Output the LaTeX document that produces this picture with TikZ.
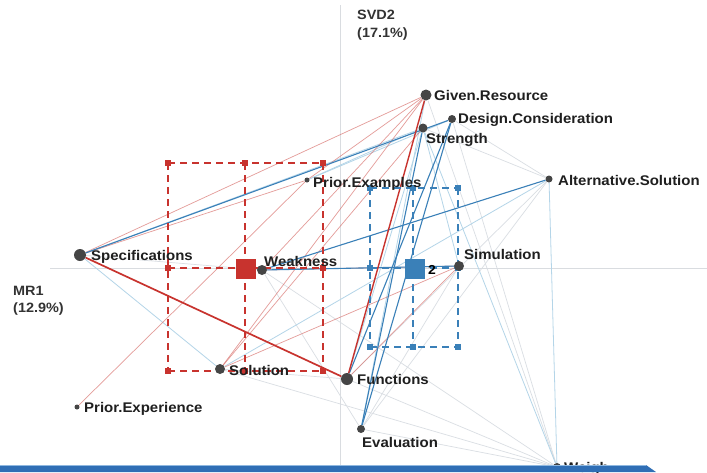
\documentclass[tikz,border=0pt]{standalone}
\usepackage{fontspec}
\setmainfont{Liberation Sans}[FakeStretch=1.07]
\usetikzlibrary{backgrounds}
\definecolor{redc}{HTML}{C8332E}
\definecolor{bluec}{HTML}{3A80B8}
\definecolor{lbluec}{HTML}{B4D5E8}
\definecolor{grayc}{HTML}{DADEE3}
\definecolor{axisc}{HTML}{D9DCE0}
\definecolor{dotc}{HTML}{454545}
\definecolor{barc}{HTML}{2F6EB5}
\definecolor{barlc}{HTML}{8FB8E0}
\begin{document}
\begin{tikzpicture}[x=1pt,y=-1pt,
  vtx/.style={circle,fill=dotc,inner sep=0pt,minimum size=#1},
  lab/.style={anchor=base west,inner sep=0pt,text=black!88,font=\fontsize{14}{16}\selectfont\bfseries},
  axlab/.style={anchor=base west,inner sep=0pt,text=black!80,font=\fontsize{13.5}{16}\selectfont\bfseries},
  redstrong/.style={draw=redc,line width=1.7pt},
  redthin/.style={draw=redc!75,line width=0.7pt,opacity=0.65},
  bluee/.style={draw=bluec,line width=1.1pt},
  lbluee/.style={draw=lbluec,line width=0.8pt},
  graye/.style={draw=grayc,line width=0.7pt},
  redbox/.style={draw=redc,line width=1.2pt,dash pattern=on 7pt off 5pt},
  bluebox/.style={draw=bluec,line width=1.2pt,dash pattern=on 7pt off 5pt},
  redmark/.style={fill=redc,inner sep=0pt,minimum size=5.5pt},
  bluemark/.style={fill=bluec,inner sep=0pt,minimum size=5.5pt}]
\useasboundingbox (0,0) rectangle (707,472);

% category points
\node[vtx=11pt] (gr)    at (426,95)  {};
\node[vtx=8pt]  (dc)    at (452,119) {};
\node[vtx=9pt]  (st)    at (423,128) {};
\node[vtx=5pt]  (pex)   at (307,180) {};
\node[vtx=7pt]  (alt)   at (549,179) {};
\node[vtx=12pt] (spec)  at (80,255)  {};
\node[vtx=10pt] (weak)  at (262,270) {};
\node[vtx=10pt] (sim)   at (459,266) {};
\node[vtx=10pt] (sol)   at (220,369) {};
\node[vtx=12pt] (fun)   at (347,379) {};
\node[vtx=5pt]  (pexp)  at (77,407)  {};
\node[vtx=8pt]  (eval)  at (361,429) {};
\node[vtx=8pt]  (weigh) at (557,467) {};

% group centres
\node[fill=redc,inner sep=0pt,minimum size=20pt] (g1) at (245.5,268.5) {};
\node[fill=bluec,inner sep=0pt,minimum size=20pt] (g2) at (415,268.5) {};
\node[anchor=west,inner sep=0pt,font=\fontsize{13}{15}\selectfont\bfseries] (g2l) at (428,270) {2};

% labels
\node[lab] (gr-l)    at (434,100) {Given.Resource};
\node[lab] (dc-l)    at (458,123) {Design.Consideration};
\node[lab] (st-l)    at (426,143) {Strength};
\node[lab] (pex-l)   at (313,187) {Prior.Examples};
\node[lab] (alt-l)   at (558,185) {Alternative.Solution};
\node[lab] (spec-l)  at (91,260)  {Specifications};
\node[lab] (weak-l)  at (264,266) {Weakness};
\node[lab] (sim-l)   at (464,259) {Simulation};
\node[lab] (sol-l)   at (229,375) {Solution};
\node[lab] (fun-l)   at (357,384) {Functions};
\node[lab] (pexp-l)  at (84,412)  {Prior.Experience};
\node[lab] (eval-l)  at (362,447) {Evaluation};
\node[lab] (weigh-l) at (564,472) {Weigh};

% axis titles
\node[axlab] (svd) at (357,19) {SVD2};
\node[axlab] (svdp) at (357,37) {(17.1\%)};
\node[axlab] (mr) at (13,295) {MR1};
\node[axlab] (mrp) at (13,312) {(12.9\%)};

\begin{scope}[on background layer]
  \fill[white] (0,0) rectangle (707,472);
  % axes
  \coordinate (ay1) at (340,5);
  \coordinate (ay2) at (340,472);
  \coordinate (ax1) at (50,268);
  \coordinate (ax2) at (707,268);
  \draw[axisc,line width=0.9pt] (ay1) -- (ay2);
  \draw[axisc,line width=0.9pt] (ax1) -- (ax2);

  % faint links
  \foreach \a/\b in {alt/eval,alt/fun,alt/st,alt/dc,gr/weigh,fun/weigh,eval/weigh,
                     weak/weigh,sol/weigh,dc/weigh,spec/weak,
                     weak/eval,sol/fun,sim/eval}
    \draw[graye] (\a) -- (\b);
  \foreach \a/\b in {spec/st,spec/sol,st/pex,st/fun,alt/weigh,st/weigh,gr/eval,
                     dc/pex,alt/sol,sim/st}
    \draw[lbluee] (\a) -- (\b);

  % red links
  \foreach \a/\b in {gr/spec,gr/sol,gr/weak,st/sol,pexp/pex,spec/pex,sim/sol,
                     sim/fun,sim/weak,gr/pex}
    \draw[redthin] (\a) -- (\b);

  % blue links
  \foreach \a/\b in {spec/dc,weak/sim,weak/alt,dc/eval,st/eval,dc/fun}
    \draw[bluee] (\a) -- (\b);

  \draw[redstrong] (spec) -- (fun);
  \draw[redstrong,line width=1.4pt] (gr) -- (fun);

  % spread of group 1
  \draw[redbox] (168,163) -- (323,163);
  \draw[redbox] (168,268) -- (323,268);
  \draw[redbox] (168,371) -- (323,371);
  \draw[redbox] (168,163) -- (168,371);
  \draw[redbox] (245,163) -- (245,371);
  \draw[redbox] (323,163) -- (323,371);
  \foreach \p in {(168,163),(245,163),(323,163),(168,268),(323,268),(168,371),(245,371),(323,371)}
    \node[redmark] at \p {};

  % spread of group 2
  \draw[bluebox] (370,188) -- (458,188);
  \draw[bluebox] (370,268) -- (458,268);
  \draw[bluebox] (370,347) -- (458,347);
  \draw[bluebox] (370,188) -- (370,347);
  \draw[bluebox] (413,188) -- (413,347);
  \draw[bluebox] (458,188) -- (458,347);
  \foreach \p in {(370,188),(413,188),(458,188),(370,268),(458,268),(370,347),(413,347),(458,347)}
    \node[bluemark] at \p {};
\end{scope}

% bottom band
\fill[barc] (0,465) -- (646,465) -- (656,472) -- (0,472) -- cycle;
\draw[barlc,line width=1pt] (0,465) -- (646,465);
\end{tikzpicture}
\end{document}
